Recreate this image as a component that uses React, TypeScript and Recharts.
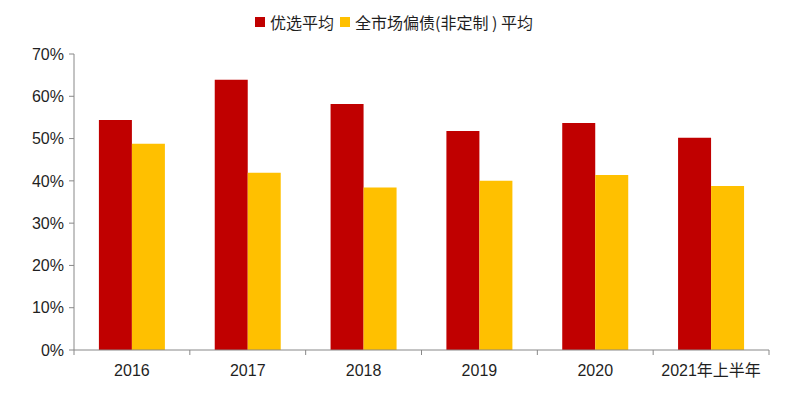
import React from 'react';
import { BarChart, Bar, XAxis, YAxis, Legend } from 'recharts';

const categories = ['2016', '2017', '2018', '2019', '2020', '2021年上半年'];
const youxuan = [54.4, 63.9, 58.2, 51.8, 53.7, 50.2];
const quanshichang = [48.8, 41.9, 38.4, 40.0, 41.4, 38.8];
const yTicks = [0, 10, 20, 30, 40, 50, 60, 70];

const seriesNames = ['优选平均', '全市场偏债(非定制 ) 平均'];
const colors = ['#C00000', '#FFC000'];

const data = categories.map((c, i) => ({ name: c, a: youxuan[i], b: quanshichang[i] }));

const AXIS = '#888888';
const TEXT = '#1f1f1f';

const XTick = (props: any) => {
  const { x, y, payload, index } = props;
  const half = payload && payload.offset ? payload.offset : 58;
  const axisY = y - 6;
  return (
    <g>
      <line x1={x - half} x2={x - half} y1={axisY} y2={axisY + 5} stroke={AXIS} />
      {index === categories.length - 1 && (
        <line x1={x + half} x2={x + half} y1={axisY} y2={axisY + 5} stroke={AXIS} />
      )}
      <text x={x} y={y} dy={20} textAnchor="middle" fill={TEXT} fontSize={16} fontFamily="'Liberation Sans', 'Noto Sans CJK SC', sans-serif">
        {payload.value}
      </text>
    </g>
  );
};

const LegendContent = () => (
  <div style={{ display: 'flex', justifyContent: 'center', alignItems: 'center', fontFamily: "'Noto Sans CJK SC', sans-serif", fontSize: 16, color: TEXT }}>
    {seriesNames.map((n, i) => (
      <div key={n} style={{ display: 'flex', alignItems: 'center', marginLeft: i ? 6 : 0 }}>
        <span style={{ display: 'inline-block', width: 10, height: 10, background: colors[i], marginRight: 5 }} />
        <span>{n}</span>
      </div>
    ))}
  </div>
);

export default function App() {
  return (
    <div style={{ position: 'absolute', left: 0, top: 0, background: '#fff' }}>
      <BarChart width={788} height={399} data={data} margin={{ top: 54, right: 19, left: 0, bottom: 0 }} barCategoryGap="21.5%" barGap={0}>
        <XAxis
          dataKey="name"
          height={49}
          stroke={AXIS}
          tickLine={false}
          tickSize={6}
          tick={<XTick />}
          tickMargin={0}
          interval={0}
        />
        <YAxis
          width={74}
          domain={[0, 70]}
          ticks={yTicks}
          stroke={AXIS}
          tickSize={5}
          tickMargin={5}
          tickFormatter={(v: number) => `${v}%`}
          tick={{ fill: TEXT, fontSize: 16, fontFamily: "'Liberation Sans', sans-serif" }}
        />
        <Legend verticalAlign="middle" align="center" content={<LegendContent />} wrapperStyle={{ top: 10, left: 0, width: 788 }} />
        <Bar dataKey="a" name={seriesNames[0]} fill={colors[0]} isAnimationActive={false} />
        <Bar dataKey="b" name={seriesNames[1]} fill={colors[1]} isAnimationActive={false} />
      </BarChart>
    </div>
  );
}
